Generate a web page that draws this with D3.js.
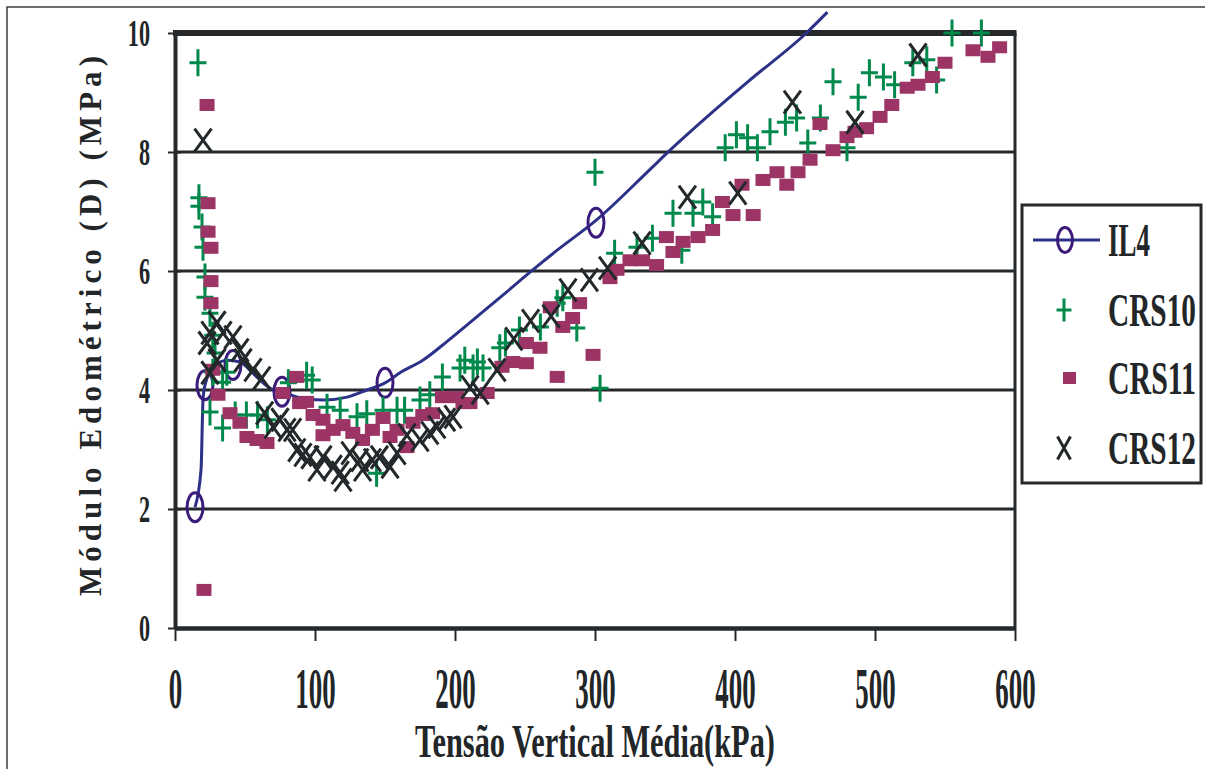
<!DOCTYPE html>
<html>
<head>
<meta charset="utf-8">
<script src="https://cdn.jsdelivr.net/npm/d3@7"></script>
<style>
  body { margin: 0; background: #fff; }
  text { font-family: "Liberation Serif", "DejaVu Serif", serif; font-weight: bold; fill: #222628; }
</style>
</head>
<body>
<script>
// ---- data ----
const seriesNames = ["IL4", "CRS10", "CRS11", "CRS12"];
const xTicks = [0, 100, 200, 300, 400, 500, 600];
const yTicks = [0, 2, 4, 6, 8, 10];

const il4Line = [[14.3,2.03],[18.6,2.66],[20,3.83],[21.4,4.08],[28.6,4.42],[37.9,4.50],[46.4,4.47],
  [57,4.25],[68,4.03],[76.4,3.97],[89,3.87],[105.7,3.83],[122.9,3.88],[137,4.0],[150,4.12],
  [160.7,4.29],[177,4.5],[194,4.81],[213,5.18],[237,5.65],[253.6,5.98],[273,6.35],[300.7,6.85],
  [339,7.7],[353.6,8.03],[380,8.59],[410.7,9.21],[451,10.0],[466,10.35]];
const il4Marks = [[14.3,2.03],[21.4,4.08],[41.4,4.42],[76.4,3.97],[150,4.12],[300.7,6.81]];

const crs10 = [[16.4,9.50],[17.1,7.23],[17.1,7.09],[19.3,6.74],[20,6.40],[21.4,5.90],[21.4,5.56],
  [25,5.29],[27,4.92],[28.6,4.62],[37,4.30],[27,4.30],[34,4.13],[25,3.63],[34,3.36],[43,3.58],
  [51,3.58],[59,3.58],[66,3.50],[81,4.12],[94,4.25],[98,4.17],[108.6,3.71],[118,3.66],[130,3.55],
  [137,3.60],[144,2.60],[148.6,3.66],[158.6,3.66],[164,3.66],[175,3.83],[182,3.92],[191,4.22],
  [203.6,4.37],[207,4.50],[212.9,4.37],[216,4.47],[220,4.37],[232,4.71],[236,4.79],[246,5.01],
  [261,5.06],[273,5.46],[277,5.55],[287,5.04],[303.6,4.03],[300,7.66],[314,6.30],[330,6.40],
  [341,6.55],[362,6.35],[355.7,6.97],[370,6.97],[377,7.16],[384,6.91],[393,8.07],[401,8.29],
  [409,8.24],[416,8.07],[425,8.34],[436,8.50],[444,8.57],[452,8.15],[461,8.57],[480,8.07],
  [470,9.18],[488,8.92],[496,9.33],[506,9.26],[514,9.13],[527,9.50],[537,9.55],[544,9.21],
  [555,10.0],[576,10.0]];

const crs11 = [[22.9,8.79],[23.6,7.14],[23.6,6.66],[25.7,6.39],[25.7,5.83],[25.7,5.46],[20.7,0.64],
  [27,4.34],[30.7,3.92],[39.3,3.61],[46.4,3.45],[51.4,3.21],[58.6,3.16],[65.7,3.11],[77,3.95],
  [87,4.22],[89,3.78],[94,3.80],[98.6,3.58],[105.7,3.50],[105.7,3.24],[113,3.33],[120,3.41],
  [127,3.28],[134,3.16],[141,3.33],[148.6,3.53],[153.6,3.21],[158.6,3.33],[165.7,3.04],[170,3.45],
  [177,3.58],[184,3.61],[191,3.88],[201,3.88],[205.7,3.78],[210.7,3.78],[223,3.95],[233.6,4.39],
  [241.4,4.47],[251,4.45],[251,4.79],[260.7,4.71],[268,5.39],[273,4.22],[277,5.06],[284,5.21],
  [289,5.46],[298.6,4.59],[310.7,5.88],[315.7,6.02],[325,6.18],[334,6.18],[344,6.10],[351,6.57],
  [355.7,6.32],[362.9,6.49],[373.6,6.57],[384,6.69],[391,7.16],[398.6,6.94],[413,6.94],[405,7.45],
  [420,7.53],[430,7.66],[437,7.45],[445,7.66],[453.6,7.87],[460.7,8.47],[470,8.03],[480,8.25],
  [485.7,8.34],[494,8.40],[503.6,8.59],[512,8.79],[523,9.08],[530.7,9.13],[541,9.26],[550,9.50],
  [570,9.71],[580.7,9.60],[589,9.76]];

const crs12 = [[20,8.20],[22.9,4.79],[25,4.96],[30,5.13],[34.3,4.96],[41.4,4.89],[30,4.50],
  [25,4.29],[46.4,4.67],[48.6,4.50],[55.7,4.34],[62,4.20],[64,3.61],[70,3.38],[75,3.50],[80,3.33],
  [84,3.33],[87,2.99],[91.4,2.91],[96.4,2.87],[101.4,2.66],[105.7,2.87],[113,2.71],[118,2.61],
  [120,2.49],[125,2.94],[132,2.82],[134,2.66],[141,2.82],[146,2.87],[153.6,2.71],[158.6,2.94],
  [165.7,3.24],[175,3.16],[182,3.28],[187,3.38],[194,3.50],[198.6,3.55],[210.7,4.05],[218,3.95],
  [230,4.34],[242,4.86],[254,5.16],[268.6,5.24],[280.7,5.68],[296,5.85],[309,6.05],[333.6,6.47],
  [366,7.24],[402,7.31],[441,8.84],[485.7,8.50],[530.7,9.63]];

// ---- drawing ----
const width = 1205, height = 769;
const ink = "#25292b";
const colLine = "#2d3188", colCircle = "#3b1c7a", colPlus = "#00894b", colSquare = "#9c3565", colX = "#23292b";

const svg = d3.select("body").append("svg")
  .attr("width", width)
  .attr("height", height);

const x = d3.scaleLinear().domain([0, 600]).range([175, 1015]);
const y = d3.scaleLinear().domain([0, 10]).range([628, 33]);

// squeeze a text horizontally so it fills a given width, keeping x as anchor
function squeeze(sel, targetW, anchorX) {
  sel.each(function () {
    const t = d3.select(this);
    const w = this.getComputedTextLength();
    const k = targetW / w;
    t.attr("transform", "translate(" + anchorX + ",0) scale(" + k + ",1) translate(" + (-anchorX) + ",0)");
  });
}

// outer frame (top and left only are visible)
svg.append("path")
  .attr("d", "M7," + height + "V7H" + width)
  .attr("fill", "none")
  .attr("stroke", "#3a3e40")
  .attr("stroke-width", 1.5);

// horizontal gridlines
svg.append("g")
  .selectAll("line")
  .data(yTicks.filter(d => d > 0 && d < 10))
  .join("line")
    .attr("x1", x(0)).attr("x2", x(600))
    .attr("y1", d => y(d)).attr("y2", d => y(d))
    .attr("stroke", ink)
    .attr("stroke-width", 3);

// top border (10) and right border
svg.append("line")
  .attr("x1", x(0) - 2).attr("x2", x(600) + 1.5)
  .attr("y1", y(10)).attr("y2", y(10))
  .attr("stroke", ink).attr("stroke-width", 6);
svg.append("line")
  .attr("x1", x(600)).attr("x2", x(600))
  .attr("y1", y(10)).attr("y2", y(0))
  .attr("stroke", ink).attr("stroke-width", 3);

// y axis
const ySx = 0.6;
const gy = svg.append("g")
  .attr("transform", "translate(" + x(0) + ",0)")
  .call(d3.axisLeft(y).tickValues(yTicks).tickSize(7).tickSizeOuter(0));
gy.select(".domain").attr("stroke", ink).attr("stroke-width", 4);
gy.selectAll(".tick line").attr("x1", 6).attr("stroke", ink).attr("stroke-width", 2);
gy.selectAll(".tick text")
  .attr("x", -25 / ySx)
  .attr("dy", "0.33em")
  .attr("transform", "scale(" + ySx + ",1)")
  .style("font-size", "37px")
  .style("font-family", "Liberation Serif")
  .style("font-weight", "bold")
  .attr("fill", "#222628");

// x axis
const xSx = 0.48;
const gx = svg.append("g")
  .attr("transform", "translate(0," + y(0) + ")")
  .call(d3.axisBottom(x).tickValues(xTicks).tickSize(13).tickSizeOuter(0));
gx.select(".domain").attr("stroke", ink).attr("stroke-width", 4.5);
gx.selectAll(".tick line").attr("stroke", ink).attr("stroke-width", 2);
gx.selectAll(".tick text")
  .attr("y", 80)
  .attr("dy", 0)
  .attr("transform", "scale(" + xSx + ",1)")
  .style("font-size", "56px")
  .style("font-family", "Liberation Serif")
  .style("font-weight", "bold")
  .attr("fill", "#222628");

// axis titles
svg.append("text")
  .attr("x", 595)
  .attr("y", 757)
  .attr("text-anchor", "middle")
  .style("font-size", "46px")
  .text("Tensão Vertical Média(kPa)")
  .call(squeeze, 360, 595);

svg.append("text")
  .attr("transform", "translate(101,326) rotate(-90)")
  .attr("text-anchor", "middle")
  .attr("textLength", 540)
  .attr("lengthAdjust", "spacing")
  .style("font-size", "31px")
  .text("Módulo Edométrico (D) (MPa)");

// marker helpers
function plusPath(w, h) {
  return "M" + (-w / 2) + ",0H" + (w / 2) + "M0," + (-h / 2) + "V" + (h / 2);
}
function crossPath(w, h) {
  return "M" + (-w / 2) + "," + (-h / 2) + "L" + (w / 2) + "," + (h / 2) +
         "M" + (w / 2) + "," + (-h / 2) + "L" + (-w / 2) + "," + (h / 2);
}

// IL4 line with circles
svg.append("path")
  .datum(il4Line)
  .attr("fill", "none")
  .attr("stroke", colLine)
  .attr("stroke-width", 3)
  .attr("d", d3.line().x(d => x(d[0])).y(d => y(d[1])).curve(d3.curveMonotoneX));

svg.append("g")
  .selectAll("ellipse")
  .data(il4Marks)
  .join("ellipse")
    .attr("cx", d => x(d[0]))
    .attr("cy", d => y(d[1]))
    .attr("rx", 8)
    .attr("ry", 14.5)
    .attr("fill", "none")
    .attr("stroke", colCircle)
    .attr("stroke-width", 3);

// CRS10 plus
svg.append("g")
  .selectAll("path")
  .data(crs10)
  .join("path")
    .attr("transform", d => "translate(" + x(d[0]) + "," + y(d[1]) + ")")
    .attr("d", plusPath(17, 27))
    .attr("stroke", colPlus)
    .attr("stroke-width", 3);

// CRS11 squares
svg.append("g")
  .selectAll("rect")
  .data(crs11)
  .join("rect")
    .attr("x", d => x(d[0]) - 7.5)
    .attr("y", d => y(d[1]) - 6)
    .attr("width", 15)
    .attr("height", 12)
    .attr("fill", colSquare);

// CRS12 crosses
svg.append("g")
  .selectAll("path")
  .data(crs12)
  .join("path")
    .attr("transform", d => "translate(" + x(d[0]) + "," + y(d[1]) + ")")
    .attr("d", crossPath(17, 23))
    .attr("stroke", colX)
    .attr("stroke-width", 3);

// legend
const legend = svg.append("g");
legend.append("rect")
  .attr("x", 1022).attr("y", 205)
  .attr("width", 179).attr("height", 278)
  .attr("fill", "#fff")
  .attr("stroke", ink)
  .attr("stroke-width", 3);

const rowY = [240, 310, 378, 448];
const labelLen = [42, 88, 88, 88];

legend.append("line")
  .attr("x1", 1033).attr("x2", 1100)
  .attr("y1", rowY[0]).attr("y2", rowY[0])
  .attr("stroke", colLine).attr("stroke-width", 3);
legend.append("ellipse")
  .attr("cx", 1065).attr("cy", rowY[0])
  .attr("rx", 7.5).attr("ry", 12.5)
  .attr("fill", "none").attr("stroke", colCircle).attr("stroke-width", 3);
legend.append("path")
  .attr("transform", "translate(1064," + rowY[1] + ")")
  .attr("d", plusPath(15, 23))
  .attr("stroke", colPlus).attr("stroke-width", 3);
legend.append("rect")
  .attr("x", 1063).attr("y", rowY[2] - 6)
  .attr("width", 13).attr("height", 12)
  .attr("fill", colSquare);
legend.append("path")
  .attr("transform", "translate(1064," + rowY[3] + ")")
  .attr("d", crossPath(13, 23))
  .attr("stroke", colX).attr("stroke-width", 3);

legend.selectAll("text.lab")
  .data(seriesNames)
  .join("text")
    .attr("class", "lab")
    .attr("x", 1108)
    .attr("y", (d, i) => rowY[i] + 16)
    .style("font-size", "46px")
    .text(d => d)
    .each(function (d, i) { squeeze(d3.select(this), labelLen[i], 1108); });
</script>
</body>
</html>
